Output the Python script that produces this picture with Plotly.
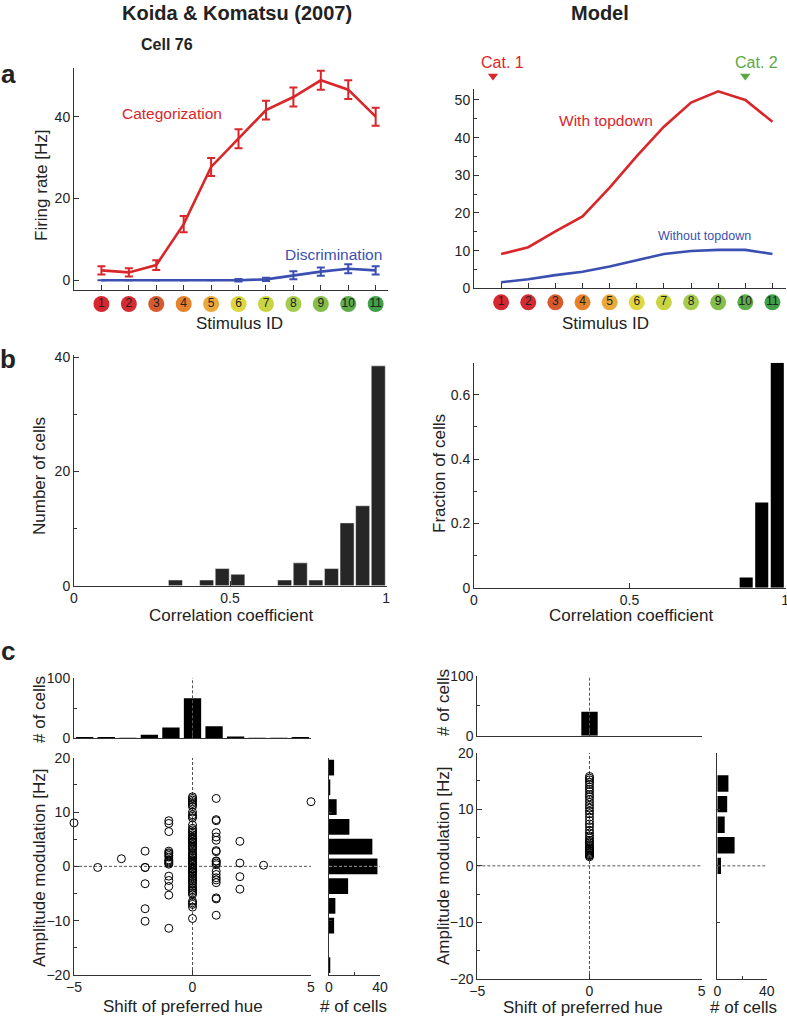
import plotly.graph_objects as go

W, H = 787, 1017
FONT = "Liberation Sans, Arial, Helvetica, sans-serif"
RED = "#d8262b"
BLUE = "#3b4fb2"
GREEN = "#5aa846"
INK = "#222222"
AX = "#333333"

# ---------------- data ----------------
stim_ids = [1, 2, 3, 4, 5, 6, 7, 8, 9, 10, 11]
stim_colors = ["#d7262f", "#d42b33", "#d65a2e", "#e5832c", "#e9a83a", "#dfd640",
               "#c8d541", "#a6cc4e", "#84bd48", "#5eac4a", "#3fa047"]

koida_cat = [2.4, 1.9, 3.7, 13.7, 27.7, 34.6, 41.6, 44.8, 48.9, 46.6, 40.0]
koida_cat_err = [1.0, 1.0, 1.2, 2.0, 2.2, 2.3, 2.3, 2.3, 2.3, 2.3, 2.2]
koida_dis = [0.0, 0.0, 0.0, 0.0, 0.0, 0.0, 0.2, 1.2, 2.1, 2.8, 2.4]
koida_dis_err = [0.0, 0.0, 0.0, 0.0, 0.0, 0.3, 0.4, 1.0, 1.0, 1.1, 1.0]

model_with = [9.1, 10.9, 15.1, 19.1, 26.7, 35.1, 42.9, 49.3, 52.3, 50.0, 44.2]
model_without = [1.6, 2.4, 3.5, 4.4, 5.8, 7.4, 9.1, 9.9, 10.2, 10.2, 9.1]

cat_marker_x = [0.7, 10.0]

corr_bins_exp = [0.325, 0.425, 0.475, 0.525, 0.675, 0.725, 0.775, 0.825, 0.875, 0.925, 0.975]
corr_counts_exp = [1, 1, 3, 2, 1, 4, 1, 3, 11, 14, 38.5]
corr_bins_model = [0.875, 0.925, 0.975]
corr_frac_model = [0.032, 0.265, 0.70]

shift_bins = [-4.55, -3.64, -2.73, -1.82, -0.91, 0.0, 0.91, 1.82, 2.73, 3.64, 4.55]
shift_counts_exp = [2, 2, 1, 6, 18, 66, 20, 3, 1, 1, 2]
shift_counts_model = [0, 0, 0, 0, 0, 40, 0, 0, 0, 0, 0]

amp_bins = [18.18, 14.55, 10.91, 7.27, 3.64, 0.0, -3.64, -7.27, -10.91, -14.55, -18.18]
amp_counts_exp = [4, 1, 6, 16, 34, 38, 15, 5, 4, 0, 1]
amp_bins_model = [14.55, 10.91, 7.27, 3.64, 0.0]
amp_counts_model = [9, 8, 6, 14, 3]

# scatter (experiment): amplitude modulation grouped by hue shift
amp_shift_m5 = [8.0]
amp_shift_m4 = [-0.2]
amp_shift_m3 = [1.4]
amp_shift_m2 = [2.8, -0.2, -3.2, -7.8, -10.1, -0.2]
amp_shift_m1 = [8.4, 7.9, 6.4, 2.8, 2.5, 2.3, 2.0, 1.7, 1.2, 1.0, 0.8, 0.4, 0.6,
                -1.8, -2.6, -3.7, -5.3, -11.4]
amp_shift_0 = [12.8, 12.5, 12.2, 11.9, 11.6, 11.3, 11.0, 10.0, 9.5, 9.2, 8.9, 7.6,
               7.0, 6.7, 6.4, 6.1, 5.8, 5.5, 5.2, 4.9, 4.6, 4.3, 4.0, 3.7, 3.4, 3.1,
               2.75, 2.4, 2.1, 1.8, 1.5, 1.2, 0.9, 0.6, 0.3, 0.0, -0.3, -0.6, -0.9,
               -1.2, -1.5, -1.8, -2.1, -2.4, -2.7, -3.0, -3.3, -3.7, -4.0, -4.3,
               -4.6, -4.9, -5.2, -6.4, -6.7, -7.0, -7.5, -9.6, 3.5, 2.0, 1.0, 0.5,
               -0.5, -1.0, 4.5, 5.0]
amp_shift_p1 = [12.5, 8.6, 8.4, 6.2, 5.4, 4.8, 2.9, 2.7, 0.9, 0.3, 0.6, 1.0, -0.9,
                -1.5, -2.1, -2.5, -3.0, -5.8, -6.0, -9.0]
amp_shift_p2 = [4.6, 0.6, -1.9, -4.2]
amp_shift_p3 = [0.2]
amp_shift_p5 = [11.9]

amp_model_shift0 = [15.8, 15.5, 15.2, 14.8, 14.4, 13.9, 13.5, 13.1, 12.6, 12.2, 11.7,
                    11.2, 10.7, 10.2, 9.7, 9.2, 8.6, 8.0, 7.4, 6.9, 6.3, 5.8, 5.3,
                    4.9, 4.5, 4.1, 3.8, 3.5, 3.2, 2.9, 2.6, 2.4, 2.2, 2.0, 1.8, 1.6,
                    3.0, 4.3, 2.7, 1.9]

groups = [(-5, amp_shift_m5), (-4, amp_shift_m4), (-3, amp_shift_m3), (-2, amp_shift_m2),
          (-1, amp_shift_m1), (0, amp_shift_0), (1, amp_shift_p1), (2, amp_shift_p2),
          (3, amp_shift_p3), (5, amp_shift_p5)]
scatter_x, scatter_y = [], []
for sx, vals in groups:
    scatter_x += [sx] * len(vals)
    scatter_y += vals
model_x = [0] * len(amp_model_shift0)

# ---------------- helpers ----------------
def dx(a, b):
    return [a / W, b / W]

def dy(top, bottom):
    return [1 - bottom / H, 1 - top / H]

def px(x):
    return x / W

def py(y):
    return 1 - y / H

def axis(**kw):
    base = dict(showline=True, linecolor=AX, linewidth=1, ticks="inside", ticklen=5,
                tickcolor=AX, tickwidth=1, showgrid=False, zeroline=False, automargin=False,
                ticklabeloverflow="allow",
                tickfont=dict(size=14, color=INK, family=FONT))
    base.update(kw)
    return base

def xaxis(**kw):
    return axis(ticklabelstandoff=-1, **kw)

def hidden(domain, rng, anchor):
    return dict(domain=domain, range=rng, visible=False, automargin=False, anchor=anchor,
                showgrid=False, zeroline=False)

fig = go.Figure()

# ---- panel a left ----
fig.add_trace(go.Scatter(x=stim_ids, y=koida_cat, mode="lines", line=dict(color=RED, width=2.6),
                         error_y=dict(type="data", array=koida_cat_err, color=RED, thickness=2, width=4),
                         xaxis="x", yaxis="y", showlegend=False))
fig.add_trace(go.Scatter(x=stim_ids, y=koida_dis, mode="lines", line=dict(color=BLUE, width=2.6),
                         error_y=dict(type="data", array=koida_dis_err, color=BLUE, thickness=2, width=4),
                         xaxis="x", yaxis="y", showlegend=False))
fig.add_trace(go.Scatter(x=stim_ids, y=[0] * 11, mode="markers+text",
                         text=[str(s) for s in stim_ids], textposition="middle center",
                         textfont=dict(size=12, color=INK, family=FONT),
                         marker=dict(size=16, color=stim_colors, line=dict(width=0)),
                         cliponaxis=False, xaxis="x11", yaxis="y11", showlegend=False))

# ---- panel a right ----
fig.add_trace(go.Scatter(x=stim_ids, y=model_with, mode="lines", line=dict(color=RED, width=2.6),
                         xaxis="x2", yaxis="y2", showlegend=False))
fig.add_trace(go.Scatter(x=stim_ids, y=model_without, mode="lines", line=dict(color=BLUE, width=2.6),
                         xaxis="x2", yaxis="y2", showlegend=False))
fig.add_trace(go.Scatter(x=stim_ids, y=[0] * 11, mode="markers+text",
                         text=[str(s) for s in stim_ids], textposition="middle center",
                         textfont=dict(size=12, color=INK, family=FONT),
                         marker=dict(size=16, color=stim_colors, line=dict(width=0)),
                         cliponaxis=False, xaxis="x12", yaxis="y12", showlegend=False))
fig.add_trace(go.Scatter(x=cat_marker_x, y=[0, 0], mode="markers",
                         marker=dict(symbol="triangle-down", size=9, color=[RED, GREEN]),
                         cliponaxis=False, xaxis="x13", yaxis="y13", showlegend=False))

# ---- panel b ----
fig.add_trace(go.Bar(x=corr_bins_exp, y=corr_counts_exp, width=0.045,
                     marker=dict(color="#262626", line=dict(color="#ffffff", width=0.5)),
                     xaxis="x3", yaxis="y3", showlegend=False))
fig.add_trace(go.Bar(x=corr_bins_model, y=corr_frac_model, width=0.042,
                     marker=dict(color="#000000", line=dict(width=0)),
                     xaxis="x4", yaxis="y4", showlegend=False))

# ---- panel c left ----
fig.add_trace(go.Bar(x=shift_bins, y=shift_counts_exp, width=0.73,
                     marker=dict(color="#000000", line=dict(width=0)),
                     xaxis="x5", yaxis="y5", showlegend=False))
fig.add_trace(go.Scatter(x=scatter_x, y=scatter_y, mode="markers",
                         marker=dict(symbol="circle-open", size=8, color="#000000", line=dict(width=1)),
                         xaxis="x6", yaxis="y6", showlegend=False, cliponaxis=False))
fig.add_trace(go.Bar(y=amp_bins, x=amp_counts_exp, orientation="h", width=2.9,
                     marker=dict(color="#000000", line=dict(width=0)),
                     xaxis="x7", yaxis="y7", showlegend=False))

# ---- panel c right ----
fig.add_trace(go.Bar(x=shift_bins, y=shift_counts_model, width=0.73,
                     marker=dict(color="#000000", line=dict(width=0)),
                     xaxis="x8", yaxis="y8", showlegend=False))
fig.add_trace(go.Scatter(x=model_x, y=amp_model_shift0, mode="markers",
                         marker=dict(symbol="circle-open", size=8, color="#000000", line=dict(width=1)),
                         xaxis="x9", yaxis="y9", showlegend=False))
fig.add_trace(go.Bar(y=amp_bins_model, x=amp_counts_model, orientation="h", width=2.9,
                     marker=dict(color="#000000", line=dict(width=0)),
                     xaxis="x10", yaxis="y10", showlegend=False))

def minor(vals):
    return dict(tickvals=vals, ticks="inside", ticklen=3, tickcolor=AX)

layout_axes = dict(
    xaxis=xaxis(domain=dx(74, 388), range=[0, 11.45], tickvals=stim_ids, showticklabels=False, anchor="y"),
    yaxis=axis(domain=dy(68, 290), range=[-2.4, 51.9], tickvals=[0, 20, 40], anchor="x"),
    xaxis2=xaxis(domain=dx(474, 786), range=[0, 11.5], tickvals=stim_ids, showticklabels=False, anchor="y2"),
    yaxis2=axis(domain=dy(89, 288.3), range=[0, 52.9], tickvals=[0, 10, 20, 30, 40, 50], anchor="x2",
                minor=minor([5, 15, 25, 35, 45])),
    xaxis3=xaxis(domain=dx(74, 387), range=[0, 1.003], tickvals=[0, 0.5, 1], ticktext=["0", "0.5", "1"], anchor="y3"),
    yaxis3=axis(domain=dy(355, 585.7), range=[0, 40.4], tickvals=[0, 20, 40], anchor="x3",
                minor=minor([10, 30])),
    xaxis4=xaxis(domain=dx(474, 786), range=[0, 1.003], tickvals=[0, 0.5, 1], ticktext=["0", "0.5", "1"], anchor="y4"),
    yaxis4=axis(domain=dy(362.7, 587.7), range=[0, 0.70], tickvals=[0, 0.2, 0.4, 0.6], anchor="x4",
                minor=minor([0.1, 0.3, 0.5])),
    xaxis5=xaxis(domain=dx(74, 311), range=[-5, 5], tickvals=[-5, 0, 5], showticklabels=False, anchor="y5"),
    yaxis5=axis(domain=dy(677.7, 738.3), range=[0, 100], tickvals=[0, 100], anchor="x5", minor=minor([50])),
    xaxis6=xaxis(domain=dx(74, 311), range=[-5, 5], tickvals=[-5, 0, 5], anchor="y6"),
    yaxis6=axis(domain=dy(757.7, 975), range=[-20, 20], tickvals=[-20, -10, 0, 10, 20], anchor="x6",
                minor=minor([-15, -5, 5, 15])),
    xaxis7=xaxis(domain=dx(329, 380), range=[0, 40], tickvals=[0, 40], anchor="y7", minor=minor([20])),
    yaxis7=axis(domain=dy(757.7, 975), range=[-20, 20], tickvals=[-20, -10, 0, 10, 20], ticklen=3,
                showticklabels=False, anchor="x7"),
    xaxis8=xaxis(domain=dx(477.3, 701.7), range=[-5, 5], tickvals=[-5, 0, 5], showticklabels=False, anchor="y8"),
    yaxis8=axis(domain=dy(676, 735.7), range=[0, 100], tickvals=[0, 100], anchor="x8", minor=minor([50])),
    xaxis9=xaxis(domain=dx(477.3, 701.7), range=[-5, 5], tickvals=[-5, 0, 5], anchor="y9"),
    yaxis9=axis(domain=dy(752.7, 979), range=[-20, 20], tickvals=[-20, -10, 0, 10, 20], anchor="x9",
                minor=minor([-15, -5, 5, 15])),
    xaxis10=xaxis(domain=dx(717.3, 766.7), range=[0, 40], tickvals=[0, 40], anchor="y10", minor=minor([20])),
    yaxis10=axis(domain=dy(752.7, 979), range=[-20, 20], tickvals=[-20, -10, 0, 10, 20], ticklen=3,
                 showticklabels=False, anchor="x10"),
    # hidden helper axes for stimulus-colour circles and category markers
    xaxis11=hidden(dx(74, 388), [0, 11.45], "y11"),
    yaxis11=hidden(dy(296, 312), [-1, 1], "x11"),
    xaxis12=hidden(dx(474, 786), [0, 11.5], "y12"),
    yaxis12=hidden(dy(294.3, 310.3), [-1, 1], "x12"),
    xaxis13=hidden(dx(474, 786), [0, 11.5], "y13"),
    yaxis13=hidden(dy(70, 82), [-1, 1], "x13"),
)

DASH = dict(color="#555555", width=1, dash="3px,2px")
shapes = [
    dict(type="line", xref="x5", yref="y5", x0=0, x1=0, y0=0, y1=100, line=DASH, layer="above"),
    dict(type="line", xref="x6", yref="y6", x0=0, x1=0, y0=-20, y1=20, line=DASH, layer="below"),
    dict(type="line", xref="x6", yref="y6", x0=-5, x1=5, y0=0, y1=0, line=DASH, layer="below"),
    dict(type="line", xref="x7", yref="y7", x0=0, x1=40, y0=0, y1=0,
         line=dict(color="#9a9a9a", width=1, dash="3px,2px"), layer="above"),
    dict(type="line", xref="x8", yref="y8", x0=0, x1=0, y0=0, y1=100, line=DASH, layer="above"),
    dict(type="line", xref="x9", yref="y9", x0=0, x1=0, y0=-20, y1=20, line=DASH, layer="below"),
    dict(type="line", xref="x9", yref="y9", x0=-5, x1=5, y0=0, y1=0, line=DASH, layer="below"),
    dict(type="line", xref="x10", yref="y10", x0=0, x1=40, y0=0, y1=0, line=DASH, layer="above"),
]

def ann(text, x, y, size=17, color=INK, bold=False, angle=0, xanchor="center"):
    t = f"<b>{text}</b>" if bold else text
    return dict(text=t, x=px(x), y=py(y), xref="paper", yref="paper", showarrow=False,
                xanchor=xanchor, yanchor="middle", textangle=angle,
                font=dict(size=size, color=color, family=FONT))

annotations = [
    ann("Koida &amp; Komatsu (2007)", 237, 13, size=20, bold=True),
    ann("Model", 600, 13, size=20, bold=True),
    ann("Cell 76", 167, 45, size=16, bold=True),
    ann("a", 8, 74, size=26, bold=True),
    ann("b", 8, 359, size=26, bold=True),
    ann("c", 8, 651, size=26, bold=True),
    ann("Categorization", 172, 113, size=15.5, color=RED),
    ann("Discrimination", 333, 254, size=15.5, color=BLUE),
    ann("With topdown", 606, 121, size=15.5, color=RED),
    ann("Without topdown", 704, 236, size=12.5, color=BLUE),
    ann("Cat. 1", 502, 62, size=16, color=RED),
    ann("Cat. 2", 756, 62, size=16, color=GREEN),
    ann("Firing rate [Hz]", 41, 186, angle=-90),
    ann("Stimulus ID", 239, 323),
    ann("Stimulus ID", 605, 323),
    ann("Number of cells", 39, 476, angle=-90),
    ann("Fraction of cells", 439, 474, angle=-90),
    ann("Correlation coefficient", 231, 615),
    ann("Correlation coefficient", 631, 615),
    ann("# of cells", 39, 710, angle=-90),
    ann("Amplitude modulation [Hz]", 39, 868, angle=-90),
    ann("Shift of preferred hue", 183, 1006),
    ann("# of cells", 353, 1006),
    ann("# of cells", 443, 703, angle=-90),
    ann("Amplitude modulation [Hz]", 443, 866, angle=-90),
    ann("Shift of preferred hue", 583, 1007),
    ann("# of cells", 743, 1007),
]

fig.update_layout(
    width=W, height=H, margin=dict(l=0, r=0, t=0, b=0, autoexpand=False),
    paper_bgcolor="white", plot_bgcolor="white",
    font=dict(family=FONT, color=INK),
    showlegend=False, barmode="overlay",
    shapes=shapes, annotations=annotations,
    **layout_axes,
)

fig.write_html("out.html",
               config={"displayModeBar": False, "staticPlot": True},
               post_script="document.body.style.margin='0px';document.body.style.overflow='hidden';")
